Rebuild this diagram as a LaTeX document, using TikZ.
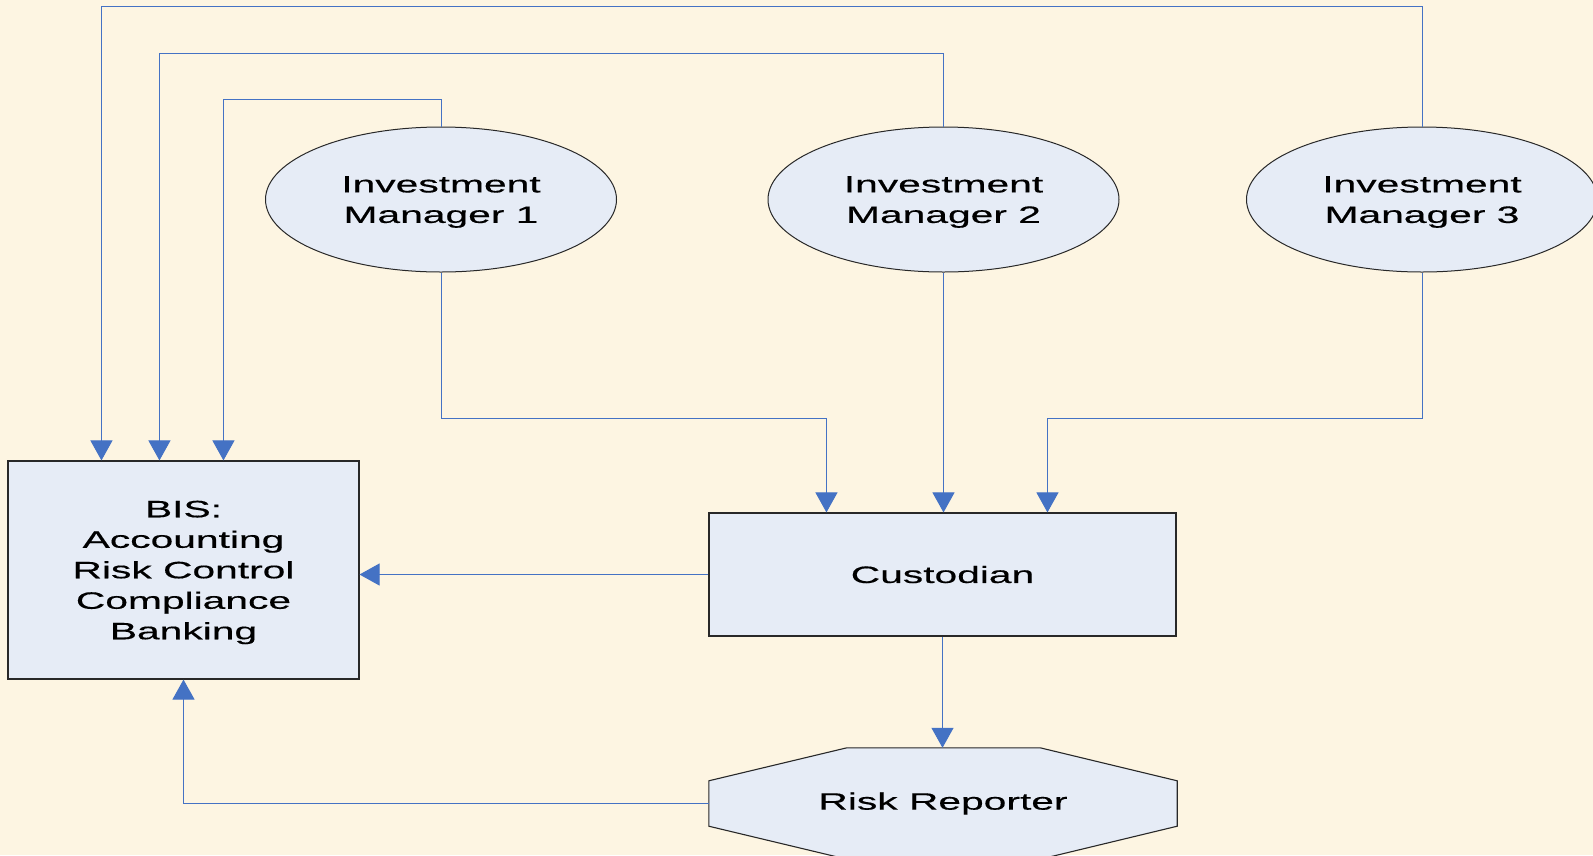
\documentclass[tikz,border=0pt]{standalone}
\usepackage{fontspec}
\newfontfamily\labelfont[FakeStretch=1.72,FakeBold=0.4]{Liberation Sans}
\usetikzlibrary{shapes.geometric,arrows.meta,calc}
\definecolor{paper}{RGB}{253,245,226}
\definecolor{boxfill}{RGB}{230,236,246}
\definecolor{flow}{RGB}{68,114,196}
\definecolor{edge}{RGB}{40,40,40}

\begin{document}
\begin{tikzpicture}[x=1pt,y=-1pt,
  txt/.style={font=\labelfont\fontsize{23.7pt}{30.5pt}\selectfont, align=center, text=black, inner sep=0pt},
  box/.style={txt, draw=edge, line width=1.1pt, fill=boxfill, rectangle},
  party/.style={txt, text depth=0pt, draw=edge, line width=1pt, fill=boxfill, ellipse, minimum width=351pt, minimum height=145pt},
  outline/.style={draw=edge, line width=1.1pt, fill=boxfill},
  flowline/.style={draw=flow, line width=1pt, -{Triangle[width=22pt,length=20pt]}},
]
\fill[paper] (0,0) rectangle (1593,855);
\useasboundingbox (0,0) rectangle (1593,855);

% investment managers
\node[party] (im1) at (441,199.5)   {Investment\\Manager 1};
\node[party] (im2) at (943.5,199.5) {Investment\\Manager 2};
\node[party] (im3) at (1422,199.5)  {Investment\\Manager 3};

% back office and custodian
\node[box, text depth=0pt, minimum width=351pt, minimum height=218pt] (bis) at (183.5,570)
  {BIS:\\Accounting\\Risk Control\\Compliance\\Banking};
\node[box, minimum width=467pt, minimum height=123pt] (cust) at (942.5,574.5) {Custodian};

% risk reporter: octagon with chamfered corners
\node[txt, minimum width=468pt, minimum height=111pt] (rr) at (943,803.5) {};
\path[outline]
  ($(rr.north west)+(138,0)$) -- ($(rr.north east)+(-137,0)$)
  -- ($(rr.north east)+(0,33)$) -- ($(rr.south east)+(0,-33)$)
  -- ($(rr.south east)+(-137,0)$) -- ($(rr.south west)+(138,0)$)
  -- ($(rr.south west)+(0,-33)$) -- ($(rr.north west)+(0,33)$) -- cycle;
\node[txt] at (rr.center) {Risk Reporter};

% managers report to BIS
\draw[flowline] (im1.north) -- ++(0,-27)  -| ($(bis.north west)+(216,0)$);
\draw[flowline] (im2.north) -- ++(0,-73)  -| ($(bis.north west)+(152,0)$);
\draw[flowline] (im3.north) -- ++(0,-120) -| ($(bis.north west)+(94,0)$);

% managers instruct the custodian
\draw[flowline] (im1.south) -- ++(0,146) -| ($(cust.north west)+(118,0)$);
\draw[flowline] (im2.south) -- (im2.south |- cust.north);
\draw[flowline] (im3.south) -- ++(0,146) -| ($(cust.north west)+(339,0)$);

% custodian and risk reporter feeds
\draw[flowline] (cust.west) -- (cust.west -| bis.east);
\draw[flowline] (cust.south) -- (cust.south |- rr.north);
\draw[flowline] (rr.west) -| (bis.south);
\end{tikzpicture}
\end{document}
